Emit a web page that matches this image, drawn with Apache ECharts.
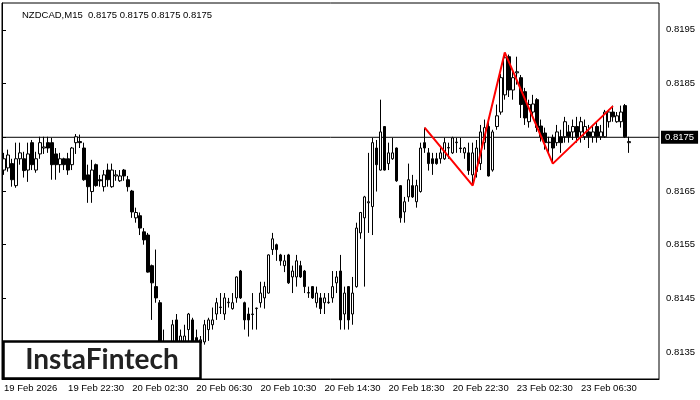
<!DOCTYPE html>
<html>
<head>
<meta charset="utf-8">
<script src="https://cdn.jsdelivr.net/npm/echarts@6/dist/echarts.min.js"></script>
<style>
  html, body { margin: 0; padding: 0; background: #fff; }
  #chart { width: 700px; height: 400px; }
</style>
</head>
<body>
<div id="chart"></div>
<script>
// NZDCAD M15, one row per bar: [open, close, low, high]
const candles = [
  // 19 Feb 18:30
  [0.81689,0.81710,0.81680,0.81721],[0.81693,0.81717,0.81686,0.81727],[0.81701,0.81671,0.81658,0.81710],[0.81660,0.81710,0.81656,0.81740],
  [0.81710,0.81721,0.81699,0.81740],[0.81710,0.81688,0.81675,0.81723],[0.81689,0.81719,0.81667,0.81740],[0.81740,0.81699,0.81689,0.81745],
  [0.81689,0.81710,0.81684,0.81723],[0.81719,0.81740,0.81710,0.81751],[0.81730,0.81732,0.81719,0.81751],[0.81740,0.81730,0.81721,0.81751],
  [0.81740,0.81699,0.81671,0.81749],[0.81719,0.81699,0.81671,0.81730],[0.81699,0.81710,0.81684,0.81721],[0.81710,0.81699,0.81689,0.81712],
  // 19 Feb 22:30
  [0.81710,0.81689,0.81680,0.81721],[0.81699,0.81730,0.81689,0.81732],[0.81740,0.81751,0.81719,0.81756],[0.81742,0.81740,0.81730,0.81755],
  [0.81730,0.81671,0.81669,0.81740],[0.81680,0.81658,0.81628,0.81699],[0.81649,0.81689,0.81628,0.81708],[0.81699,0.81660,0.81658,0.81701],
  [0.81671,0.81669,0.81658,0.81680],[0.81658,0.81680,0.81649,0.81689],[0.81689,0.81671,0.81658,0.81701],[0.81658,0.81689,0.81656,0.81701],
  [0.81678,0.81680,0.81669,0.81689],[0.81669,0.81678,0.81667,0.81689],[0.81689,0.81678,0.81669,0.81691],[0.81671,0.81658,0.81649,0.81678],
  // 20 Feb 02:30
  [0.81650,0.81611,0.81600,0.81652],[0.81600,0.81610,0.81591,0.81619],[0.81604,0.81581,0.81568,0.81610],[0.81574,0.81559,0.81550,0.81581],
  [0.81568,0.81499,0.81498,0.81572],[0.81511,0.81479,0.81410,0.81513],[0.81472,0.81451,0.81442,0.81541],[0.81442,0.81354,0.81345,0.81447],
  [0.81358,0.81364,0.81336,0.81392],[0.81364,0.81354,0.81340,0.81369],[0.81354,0.81401,0.81345,0.81410],[0.81410,0.81364,0.81354,0.81421],
  [0.81364,0.81380,0.81354,0.81392],[0.81365,0.81380,0.81358,0.81401],[0.81392,0.81421,0.81369,0.81423],[0.81410,0.81365,0.81354,0.81414],
  // 20 Feb 06:30
  [0.81377,0.81367,0.81358,0.81392],[0.81367,0.81373,0.81354,0.81380],[0.81369,0.81401,0.81364,0.81410],[0.81392,0.81410,0.81371,0.81414],
  [0.81401,0.81410,0.81392,0.81433],[0.81421,0.81442,0.81410,0.81451],[0.81433,0.81434,0.81421,0.81460],[0.81421,0.81451,0.81410,0.81460],
  [0.81442,0.81443,0.81433,0.81451],[0.81431,0.81442,0.81429,0.81460],[0.81451,0.81490,0.81442,0.81491],[0.81501,0.81451,0.81449,0.81503],
  [0.81442,0.81410,0.81392,0.81444],[0.81421,0.81410,0.81379,0.81433],[0.81420,0.81421,0.81392,0.81460],[0.81431,0.81432,0.81392,0.81433],
  // 20 Feb 10:30
  [0.81442,0.81460,0.81433,0.81481],[0.81451,0.81472,0.81431,0.81481],[0.81460,0.81531,0.81459,0.81532],[0.81541,0.81561,0.81531,0.81572],
  [0.81550,0.81541,0.81520,0.81552],[0.81531,0.81520,0.81511,0.81533],[0.81511,0.81520,0.81499,0.81531],[0.81531,0.81479,0.81477,0.81533],
  [0.81490,0.81501,0.81460,0.81511],[0.81490,0.81520,0.81472,0.81531],[0.81511,0.81490,0.81488,0.81520],[0.81501,0.81472,0.81460,0.81503],
  [0.81460,0.81461,0.81451,0.81472],[0.81472,0.81451,0.81449,0.81473],[0.81442,0.81460,0.81433,0.81472],[0.81451,0.81431,0.81421,0.81460],
  // 20 Feb 14:30
  [0.81442,0.81451,0.81421,0.81460],[0.81442,0.81443,0.81440,0.81460],[0.81451,0.81472,0.81442,0.81501],[0.81479,0.81490,0.81460,0.81501],
  [0.81501,0.81410,0.81392,0.81531],[0.81421,0.81460,0.81392,0.81472],[0.81472,0.81410,0.81392,0.81473],[0.81421,0.81460,0.81401,0.81490],
  [0.81472,0.81581,0.81470,0.81591],[0.81572,0.81610,0.81561,0.81611],[0.81600,0.81639,0.81472,0.81641],[0.81628,0.81630,0.81572,0.81721],
  [0.81621,0.81740,0.81568,0.81749],[0.81730,0.81699,0.81649,0.81745],[0.81689,0.81760,0.81688,0.81820],[0.81770,0.81689,0.81688,0.81771],
  // 20 Feb 18:30
  [0.81701,0.81721,0.81689,0.81740],[0.81710,0.81721,0.81708,0.81749],[0.81730,0.81669,0.81667,0.81731],[0.81660,0.81600,0.81591,0.81661],
  [0.81611,0.81630,0.81591,0.81639],[0.81639,0.81671,0.81630,0.81701],[0.81660,0.81639,0.81637,0.81680],[0.81630,0.81660,0.81619,0.81671],
  [0.81649,0.81730,0.81647,0.81740],[0.81740,0.81730,0.81721,0.81768],[0.81721,0.81701,0.81688,0.81730],[0.81710,0.81701,0.81680,0.81721],
  [0.81710,0.81701,0.81699,0.81721],[0.81710,0.81721,0.81701,0.81730],[0.81710,0.81740,0.81708,0.81749],[0.81730,0.81731,0.81710,0.81740],
  // 20 Feb 22:30
  [0.81721,0.81749,0.81719,0.81751],[0.81740,0.81741,0.81721,0.81749],[0.81730,0.81729,0.81721,0.81749],[0.81721,0.81730,0.81710,0.81732],
  [0.81721,0.81688,0.81680,0.81740],[0.81680,0.81721,0.81660,0.81740],[0.81686,0.81730,0.81675,0.81745],[0.81701,0.81760,0.81689,0.81773],
  [0.81740,0.81768,0.81727,0.81783],[0.81770,0.81678,0.81677,0.81779],[0.81689,0.81760,0.81686,0.81764],[0.81770,0.81790,0.81764,0.81811],
  [0.81797,0.81861,0.81792,0.81868],[0.81829,0.81898,0.81820,0.81907],[0.81900,0.81838,0.81825,0.81904],[0.81838,0.81861,0.81820,0.81876],
  // 23 Feb 02:30
  [0.81870,0.81872,0.81848,0.81900],[0.81861,0.81811,0.81786,0.81866],[0.81835,0.81786,0.81773,0.81842],[0.81779,0.81811,0.81768,0.81820],
  [0.81797,0.81812,0.81786,0.81829],[0.81820,0.81768,0.81760,0.81823],[0.81771,0.81751,0.81742,0.81783],[0.81758,0.81740,0.81727,0.81768],
  [0.81740,0.81741,0.81721,0.81751],[0.81749,0.81730,0.81703,0.81755],[0.81740,0.81760,0.81734,0.81773],[0.81751,0.81740,0.81721,0.81764],
  [0.81751,0.81779,0.81740,0.81788],[0.81760,0.81751,0.81740,0.81773],[0.81760,0.81770,0.81745,0.81783],[0.81770,0.81751,0.81740,0.81788],
  // 23 Feb 06:30
  [0.81760,0.81779,0.81740,0.81788],[0.81751,0.81770,0.81745,0.81783],[0.81760,0.81751,0.81730,0.81773],[0.81751,0.81760,0.81740,0.81773],
  [0.81770,0.81751,0.81740,0.81779],[0.81751,0.81760,0.81745,0.81773],[0.81751,0.81797,0.81749,0.81801],[0.81779,0.81797,0.81768,0.81801],
  [0.81797,0.81788,0.81779,0.81809],[0.81779,0.81790,0.81777,0.81797],[0.81779,0.81797,0.81768,0.81809],[0.81809,0.81751,0.81749,0.81812],
  [0.81740,0.81742,0.81721,0.81751]
];

const slotCount = 164;   // bar slots across the window, the last few stay empty
const tickEvery = 16;    // a time label every 4 hours
const tickLabels = ['19 Feb 2026', '19 Feb 22:30', '20 Feb 02:30', '20 Feb 06:30', '20 Feb 10:30',
                    '20 Feb 14:30', '20 Feb 18:30', '20 Feb 22:30', '23 Feb 02:30', '23 Feb 06:30'];
const priceTicks = [0.8135, 0.8145, 0.8155, 0.8165, 0.8175, 0.8185, 0.8195];
const lastPrice = 0.8175;

// red pattern drawn on the chart (bar index, price)
const patternIdx = [105, 117, 125, 137, 152];
const patternPrice = [0.81768, 0.81660, 0.81908, 0.81701, 0.81808];

const font = '"Liberation Sans", Arial, sans-serif';
const slots = [];
for (let i = 0; i < slotCount; i++) slots.push(String(i));

function isTick(i) {
  return i % tickEvery === 0 && i / tickEvery < tickLabels.length;
}

const p = lastPrice.toFixed(4);
const chart = echarts.init(document.getElementById('chart'));
chart.setOption({
  animation: false,
  backgroundColor: '#fff',
  title: {
    text: 'NZDCAD,M15  ' + [p, p, p, p].join(' '),
    left: 17,
    top: 5,
    textStyle: { fontSize: 9.5, fontWeight: 'normal', color: '#000', fontFamily: font }
  },
  grid: {
    left: 2, right: 41, top: 3, bottom: 21,
    show: true, borderColor: '#000', borderWidth: 1, backgroundColor: '#fff'
  },
  xAxis: [
    {
      type: 'category',
      data: slots,
      boundaryGap: true,
      axisLine: { lineStyle: { color: '#000', width: 1 } },
      axisTick: { alignWithLabel: true, length: 4, interval: isTick, lineStyle: { color: '#000' } },
      axisLabel: {
        interval: isTick,
        formatter: (v, i) => tickLabels[i / tickEvery],
        align: 'left',
        margin: 4,
        color: '#000',
        fontSize: 9.5,
        fontFamily: font
      },
      splitLine: { show: false }
    },
    // helper axis so the bid line runs across the whole plot
    { type: 'value', min: 0, max: 1, show: false }
  ],
  yAxis: {
    type: 'value',
    position: 'right',
    min: 0.8130,
    max: 0.8200,
    axisLine: { show: true, lineStyle: { color: '#000', width: 1 } },
    axisTick: { show: true, length: 4, customValues: priceTicks, lineStyle: { color: '#000' } },
    axisLabel: {
      customValues: priceTicks,
      formatter: v => v.toFixed(4),
      margin: 7,
      color: '#000',
      fontSize: 9.5,
      fontFamily: font
    },
    splitLine: { show: false }
  },
  series: [
    {
      type: 'line',
      xAxisIndex: 1,
      data: [[0, lastPrice], [1, lastPrice]],
      symbol: 'none',
      silent: true,
      z: 1,
      lineStyle: { color: '#000', width: 1 },
      endLabel: {
        show: true,
        formatter: p,
        distance: 2,
        color: '#fff',
        backgroundColor: '#000',
        padding: [2, 4, 1, 4],
        fontSize: 9.5,
        fontFamily: font
      }
    },
    {
      type: 'candlestick',
      data: candles,
      barWidth: 3,
      silent: true,
      z: 2,
      itemStyle: { color: '#fff', color0: '#000', borderColor: '#000', borderColor0: '#000', borderWidth: 1 }
    },
    {
      type: 'line',
      data: patternIdx.map((x, k) => [x, patternPrice[k]]),
      symbol: 'none',
      silent: true,
      lineStyle: { color: '#ff0000', width: 2 },
      z: 5
    }
  ],
  graphic: [
    {
      type: 'rect', z: 100,
      shape: { x: 3.5, y: 341.5, width: 197, height: 37 },
      style: { fill: '#fff', stroke: '#000', lineWidth: 2.5 }
    },
    {
      type: 'text', z: 101,
      style: {
        x: 102, y: 360, text: 'InstaFintech', textAlign: 'center', textVerticalAlign: 'middle',
        fontSize: 28, fontWeight: 'bold', fontFamily: 'Lato, sans-serif', fill: '#222'
      }
    }
  ]
});
</script>
</body>
</html>
